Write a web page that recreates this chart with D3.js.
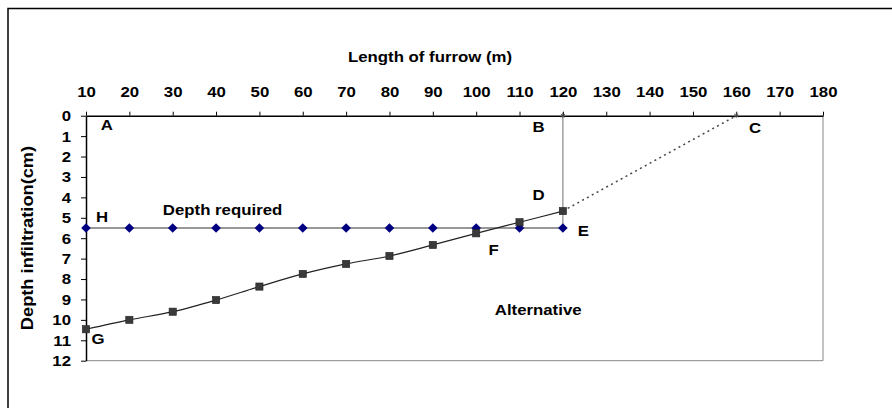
<!DOCTYPE html>
<html><head><meta charset="utf-8">
<script src="https://cdn.jsdelivr.net/npm/d3@7"></script>
<style>
body{margin:0;background:#fff;}
svg{display:block;font-family:"Liberation Sans",Arial,sans-serif;font-weight:bold;}
</style></head>
<body><svg id="c" width="892" height="408"></svg>
<script>
const lengths = [10,20,30,40,50,60,70,80,90,100,110,120];
const depthRequired = [5.5,5.5,5.5,5.5,5.5,5.5,5.5,5.5,5.5,5.5,5.5,5.5];
const alternative = [10.46,10.0,9.6,9.03,8.37,7.75,7.26,6.87,6.33,5.76,5.22,4.67];
const extLengths = [120,160];
const extDepths = [4.67,0];
const guideLengths = [120,120];
const guideDepths = [0,5.5];
const xTicks = [10,20,30,40,50,60,70,80,90,100,110,120,130,140,150,160,170,180];
const yTicks = [0,1,2,3,4,5,6,7,8,9,10,11,12];
const pointLabels = [
  {t:"A",x:14.8,y:0.45},{t:"B",x:114.4,y:0.55},{t:"C",x:164.3,y:0.6},
  {t:"D",x:114.4,y:3.9},{t:"E",x:124.7,y:5.65},{t:"F",x:104,y:6.6},
  {t:"G",x:12.8,y:10.95},{t:"H",x:13.7,y:4.95}
];
const textNotes = [{t:"Depth required",x:41.5,y:4.6},{t:"Alternative",x:114.3,y:9.5}];

const SX = 1.2;
const svg = d3.select("#c");
const x = d3.scaleLinear().domain([10,180]).range([86,823]);
const y = d3.scaleLinear().domain([0,12]).range([115.7,360.7]);

function label(parent, t, px, py, size, anchor){
  return parent.append("text")
    .attr("transform",`translate(${px},${py}) scale(${SX},1)`)
    .attr("text-anchor",anchor||"middle").attr("dy","0.35em")
    .attr("font-size",size).attr("fill","#000").text(t);
}

// outer frame
svg.append("rect").attr("x",8).attr("y",8.5).attr("width",900).attr("height",500)
  .attr("fill","none").attr("stroke","#000").attr("stroke-width",1.5);

// plot border (right and bottom gray)
svg.append("path").attr("d",`M${x(180)},${y(0)}V${y(12)}H${x(10)}`)
  .attr("fill","none").attr("stroke","#888").attr("stroke-width",1);

// axes
const xAxis = d3.axisTop(x).tickValues(xTicks).tickSize(4).tickSizeOuter(0);
const gx = svg.append("g").attr("transform",`translate(0,${y(0)})`).call(xAxis);
gx.selectAll(".tick text").attr("y",null).attr("dy","0.35em")
  .attr("transform",`translate(0,-24) scale(${SX},1)`);
const yAxis = d3.axisLeft(y).tickValues(yTicks).tickSize(5).tickSizeOuter(0);
const gy = svg.append("g").attr("transform",`translate(${x(10)},0)`).call(yAxis);
gy.selectAll(".tick text").attr("x",null).attr("dy","0.35em")
  .attr("transform",`translate(-15,0) scale(${SX},1)`);
[gx,gy].forEach(g=>{
  g.selectAll("text").attr("font-size",14).attr("font-weight","bold").attr("fill","#000")
   .attr("font-family","'Liberation Sans',Arial,sans-serif");
  g.selectAll("line").attr("stroke","#000");
  g.select(".domain").attr("stroke","#000").attr("stroke-width",1.5);
});

// titles
label(svg,"Length of furrow (m)",430,57,14);
svg.append("text").attr("transform","translate(27,238) rotate(-90) scale(1.14,1.08)")
  .attr("text-anchor","middle").attr("dy","0.35em")
  .attr("font-size",16).text("Depth infiltration(cm)");

// guide line B-E
svg.append("path").datum(guideLengths.map((v,i)=>[v,guideDepths[i]]))
  .attr("d",d3.line().x(d=>x(d[0])).y(d=>y(d[1])))
  .attr("stroke","#888").attr("stroke-width",1.2).attr("fill","none");

// dotted extension D-C
svg.append("path").datum(extLengths.map((v,i)=>[v,extDepths[i]]))
  .attr("d",d3.line().x(d=>x(d[0])).y(d=>y(d[1])))
  .attr("stroke","#444").attr("stroke-width",1.5).attr("stroke-dasharray","2,3.5").attr("fill","none");

// depth required line
const req = lengths.map((v,i)=>[v,depthRequired[i]]);
svg.append("path").datum(req)
  .attr("d",d3.line().x(d=>x(d[0])).y(d=>y(d[1])))
  .attr("stroke","#333").attr("stroke-width",1.2).attr("fill","none");

// alternative line (smoothed)
const alt = lengths.map((v,i)=>[v,alternative[i]]);
svg.append("path").datum(alt)
  .attr("d",d3.line().curve(d3.curveCatmullRom.alpha(0.5)).x(d=>x(d[0])).y(d=>y(d[1])))
  .attr("stroke","#222").attr("stroke-width",1.2).attr("fill","none");

// diamond markers
svg.append("g").selectAll("path").data(req).join("path")
  .attr("transform",d=>`translate(${x(d[0])},${y(d[1])})`)
  .attr("d","M0,-4.8L4.8,0L0,4.8L-4.8,0Z").attr("fill","#000080");

// square markers
svg.append("g").selectAll("rect").data(alt).join("rect")
  .attr("x",d=>x(d[0])-3.6).attr("y",d=>y(d[1])-3.6).attr("width",7.2).attr("height",7.2)
  .attr("fill","#3a3a3a").attr("stroke","#222").attr("stroke-width",0.6);

// small markers at B and C
svg.append("g").selectAll("path").data([[120,0],[160,0]]).join("path")
  .attr("transform",d=>`translate(${x(d[0])},${y(d[1])})`)
  .attr("d","M-2,-1.5L2,1.5M-2,1.5L2,-1.5M0,-3V2").attr("stroke","#444").attr("stroke-width",1);

// letter labels
const gl = svg.append("g");
pointLabels.forEach(d=>label(gl,d.t,x(d.x),y(d.y),14));
textNotes.forEach(d=>label(gl,d.t,x(d.x),y(d.y),14));
</script></body></html>
